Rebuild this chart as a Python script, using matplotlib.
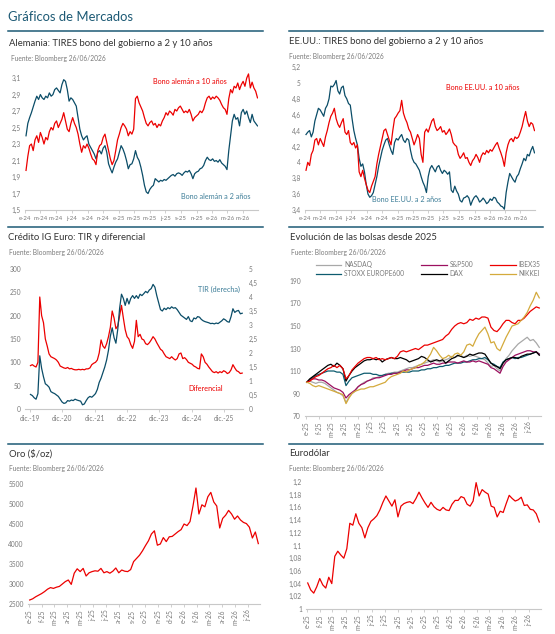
import numpy as np
import pandas as pd
import matplotlib
matplotlib.use("Agg")
import matplotlib.pyplot as plt
import matplotlib.dates as mdates
from matplotlib.lines import Line2D
from matplotlib.ticker import FuncFormatter

plt.rcParams['font.family'] = ['Lato', 'DejaVu Sans']

# ---------------- datos ----------------
# Alemania, semanal desde 2024-01-05
de_dates = pd.date_range('2024-01-05', periods=130, freq='W-FRI')
de_10y = [1.98, 2.15, 2.28, 2.30, 2.22, 2.35, 2.40, 2.32, 2.44, 2.38,
          2.30, 2.38, 2.35, 2.45, 2.50, 2.47, 2.55, 2.58, 2.50, 2.55,
          2.60, 2.68, 2.58, 2.48, 2.45, 2.55, 2.62, 2.55, 2.50, 2.42,
          2.30, 2.20, 2.28, 2.25, 2.30, 2.25, 2.18, 2.12, 2.10, 2.05,
          2.22, 2.28, 2.30, 2.38, 2.42, 2.32, 2.22, 2.12, 2.05, 2.10,
          2.22, 2.35, 2.42, 2.50, 2.55, 2.52, 2.48, 2.40, 2.45, 2.42,
          2.48, 2.85, 2.88, 2.80, 2.75, 2.70, 2.62, 2.55, 2.52, 2.56,
          2.58, 2.53, 2.55, 2.50, 2.54, 2.52, 2.58, 2.62, 2.68, 2.65,
          2.70, 2.68, 2.65, 2.72, 2.70, 2.74, 2.76, 2.72, 2.68, 2.70,
          2.68, 2.72, 2.66, 2.58, 2.62, 2.64, 2.66, 2.70, 2.68, 2.72,
          2.80, 2.86, 2.88, 2.84, 2.87, 2.85, 2.88, 2.86, 2.83, 2.78,
          2.74, 2.72, 2.66, 2.85, 2.96, 2.92, 3.00, 2.98, 3.04, 2.96,
          3.02, 3.06, 3.00, 3.10, 3.15, 2.98, 3.05, 2.98, 2.94, 2.86]
de_2y = [2.40, 2.55, 2.62, 2.68, 2.75, 2.82, 2.88, 2.84, 2.90, 2.86,
         2.84, 2.88, 2.86, 2.92, 2.88, 2.90, 2.96, 2.98, 2.95, 2.92,
         3.02, 3.08, 3.06, 2.96, 2.82, 2.86, 2.84, 2.80, 2.76, 2.62,
         2.48, 2.40, 2.35, 2.38, 2.40, 2.30, 2.26, 2.22, 2.18, 2.12,
         2.20, 2.22, 2.18, 2.25, 2.28, 2.20, 2.06, 2.00, 1.95, 2.02,
         2.08, 2.12, 2.20, 2.28, 2.24, 2.18, 2.10, 2.00, 2.05, 2.06,
         2.12, 2.22, 2.14, 2.10, 2.02, 1.92, 1.80, 1.72, 1.70, 1.75,
         1.78, 1.80, 1.88, 1.86, 1.84, 1.86, 1.85, 1.87, 1.86, 1.88,
         1.90, 1.92, 1.93, 1.91, 1.94, 1.95, 1.94, 1.92, 1.95, 1.97,
         1.96, 1.98, 1.94, 1.88, 1.94, 1.96, 1.97, 2.00, 2.01, 2.04,
         2.10, 2.14, 2.11, 2.10, 2.12, 2.09, 2.10, 2.08, 2.11, 2.07,
         2.05, 2.03, 1.99, 2.22, 2.40, 2.58, 2.66, 2.60, 2.62, 2.52,
         2.68, 2.72, 2.66, 2.70, 2.62, 2.56, 2.66, 2.58, 2.55, 2.52]

# EE.UU., semanal desde 2024-01-05
us_10y = [3.90, 4.00, 3.96, 4.10, 4.15, 4.28, 4.30, 4.22, 4.30, 4.25,
          4.20, 4.32, 4.40, 4.50, 4.58, 4.62, 4.68, 4.55, 4.48, 4.44,
          4.50, 4.55, 4.38, 4.35, 4.40, 4.25, 4.22, 4.25, 4.18, 4.22,
          3.88, 3.82, 3.90, 3.80, 3.72, 3.65, 3.62, 3.70, 3.76, 3.82,
          3.98, 4.10, 4.20, 4.30, 4.40, 4.42, 4.35, 4.28, 4.22, 4.40,
          4.55, 4.58, 4.62, 4.65, 4.78, 4.62, 4.55, 4.50, 4.42, 4.38,
          4.30, 4.22, 4.28, 4.35, 4.30, 4.10, 4.00, 4.38, 4.42, 4.38,
          4.45, 4.52, 4.55, 4.45, 4.40, 4.42, 4.45, 4.38, 4.40, 4.35,
          4.38, 4.42, 4.35, 4.25, 4.22, 4.20, 4.10, 4.05, 4.08, 4.12,
          4.05, 4.06, 4.00, 3.96, 4.02, 4.05, 4.10, 4.06, 4.00, 4.08,
          4.12, 4.10, 4.15, 4.12, 4.16, 4.14, 4.18, 4.22, 4.25, 4.18,
          4.12, 4.05, 3.95, 4.12, 4.22, 4.28, 4.30, 4.26, 4.32, 4.30,
          4.32, 4.38, 4.45, 4.55, 4.64, 4.52, 4.45, 4.50, 4.48, 4.40]
us_2y = [4.35, 4.38, 4.40, 4.32, 4.38, 4.52, 4.60, 4.68, 4.66, 4.62,
         4.58, 4.68, 4.72, 4.80, 4.96, 4.95, 4.98, 5.03, 4.90, 4.86,
         4.94, 4.96, 4.84, 4.80, 4.74, 4.72, 4.55, 4.40, 4.30, 4.22,
         4.05, 3.95, 3.98, 3.88, 3.72, 3.60, 3.56, 3.58, 3.62, 3.72,
         3.82, 3.95, 4.05, 4.15, 4.22, 4.28, 4.30, 4.22, 4.15, 4.10,
         4.25, 4.30, 4.28, 4.32, 4.35, 4.28, 4.25, 4.30, 4.28, 4.15,
         4.05, 4.00, 3.98, 3.94, 3.90, 3.82, 3.75, 3.70, 3.62, 3.82,
         3.92, 3.96, 3.92, 3.88, 3.94, 3.96, 3.90, 3.86, 3.90, 3.88,
         3.85, 3.88, 3.65, 3.62, 3.70, 3.64, 3.60, 3.52, 3.50, 3.55,
         3.56, 3.58, 3.55, 3.46, 3.52, 3.56, 3.58, 3.55, 3.50, 3.52,
         3.55, 3.52, 3.48, 3.50, 3.54, 3.52, 3.56, 3.55, 3.50, 3.48,
         3.45, 3.44, 3.41, 3.62, 3.75, 3.86, 3.82, 3.78, 3.75, 3.82,
         3.85, 3.92, 3.98, 4.05, 4.02, 4.10, 4.08, 4.15, 4.20, 4.12]

# Crédito IG Euro, cada 3 semanas desde 2019-12-06
ig_dates = pd.date_range('2019-12-06', periods=115, freq='21D')
ig_spread = [93, 95, 92, 90, 100, 240, 200, 185, 150, 135,
             118, 112, 110, 108, 105, 100, 92, 90, 88, 87,
             89, 86, 87, 85, 84, 84, 85, 84, 85, 84,
             86, 86, 88, 95, 98, 100, 105, 120, 148, 135,
             130, 140, 155, 175, 210, 195, 172, 178, 200, 222,
             195, 170, 155, 150, 138, 130, 145, 190, 155, 160,
             150, 148, 140, 138, 142, 148, 155, 150, 142, 135,
             128, 125, 118, 112, 110, 108, 112, 108, 105, 108,
             118, 120, 108, 110, 106, 100, 98, 96, 92, 90,
             87, 86, 118, 112, 100, 96, 90, 85, 80, 78,
             80, 77, 80, 78, 82, 80, 76, 78, 84, 95,
             88, 82, 80, 76, 77]
ig_yield = [0.52, 0.48, 0.40, 0.35, 0.55, 1.90, 1.45, 1.15, 0.90, 0.85,
            0.78, 0.62, 0.58, 0.55, 0.50, 0.45, 0.35, 0.25, 0.20, 0.22,
            0.30, 0.28, 0.32, 0.30, 0.35, 0.32, 0.30, 0.28, 0.15, 0.18,
            0.30, 0.40, 0.45, 0.42, 0.48, 0.55, 0.70, 0.95, 1.10, 1.30,
            1.50, 1.75, 2.10, 2.60, 2.90, 2.55, 2.35, 2.85, 3.60, 4.10,
            3.95, 3.70, 3.95, 3.75, 3.95, 4.05, 3.95, 4.05, 3.95, 4.10,
            4.05, 4.12, 4.20, 4.15, 4.25, 4.30, 4.45, 4.35, 4.05, 3.80,
            3.55, 3.50, 3.60, 3.55, 3.62, 3.58, 3.65, 3.60, 3.62, 3.55,
            3.45, 3.35, 3.30, 3.25, 3.20, 3.30, 3.15, 3.12, 3.25, 3.22,
            3.30, 3.28, 3.20, 3.15, 3.12, 3.10, 3.08, 3.05, 3.06, 3.04,
            3.07, 3.05, 3.10, 3.15, 3.22, 3.18, 3.12, 3.10, 3.30, 3.58,
            3.45, 3.50, 3.52, 3.40, 3.42]

# Bolsas (base 100), semanal desde 2025-01-03
eq_dates = pd.date_range('2025-01-03', periods=78, freq='W-FRI')
nasdaq = [100, 101, 100, 99, 100, 100, 99, 97, 95, 93,
          91, 90, 88, 82, 87, 90, 92, 96, 98, 100,
          101, 102, 104, 104, 105, 106, 107, 108, 108, 109,
          109, 110, 111, 112, 113, 113, 114, 115, 116, 117,
          118, 119, 120, 119, 118, 119, 120, 121, 123, 122,
          123, 124, 122, 124, 123, 124, 123, 122, 121, 120,
          117, 114, 115, 112, 110, 117, 121, 124, 128, 131,
          134, 136, 138, 140, 137, 138, 135, 131]
sp500 = [100, 102, 103, 103, 102, 102, 101, 99, 97, 95,
         94, 93, 91, 86, 89, 91, 93, 96, 98, 99,
         101, 102, 103, 104, 104, 105, 106, 107, 107, 108,
         108, 109, 110, 111, 111, 112, 113, 113, 114, 115,
         115, 116, 117, 116, 116, 117, 117, 118, 118, 118,
         117, 118, 119, 118, 118, 119, 118, 119, 118, 117,
         116, 113, 112, 110, 108, 114, 118, 120, 122, 124,
         125, 126, 127, 128, 128, 127, 127, 125]
ibex35 = [100, 101, 103, 105, 106, 108, 110, 112, 113, 115,
          113, 115, 112, 103, 106, 111, 114, 117, 119, 121,
          122, 122, 121, 122, 120, 121, 120, 121, 122, 121,
          123, 127, 128, 127, 128, 129, 130, 129, 131, 133,
          133, 134, 135, 136, 137, 138, 141, 143, 147, 150,
          152, 153, 152, 153, 156, 155, 157, 156, 158, 158,
          157, 149, 146, 145, 148, 152, 155, 155, 153, 152,
          155, 155, 157, 160, 163, 165, 167, 166]
stoxx600 = [100, 102, 104, 106, 107, 108, 109, 110, 110, 110,
            109, 109, 107, 97, 101, 104, 105, 106, 107, 108,
            108, 108, 107, 107, 106, 106, 107, 107, 108, 108,
            108, 109, 109, 109, 109, 110, 110, 110, 111, 111,
            112, 112, 113, 113, 114, 114, 115, 115, 116, 117,
            117, 117, 118, 118, 119, 120, 120, 121, 121, 122,
            120, 117, 116, 114, 113, 118, 120, 121, 122, 121,
            122, 122, 123, 124, 125, 126, 127, 125]
dax = [100, 103, 105, 107, 109, 111, 113, 115, 116, 114,
       117, 115, 112, 101, 106, 110, 113, 115, 117, 119,
       120, 120, 121, 120, 121, 118, 120, 121, 122, 121,
       121, 122, 121, 120, 118, 119, 120, 121, 123, 122,
       120, 118, 119, 120, 119, 120, 117, 119, 121, 122,
       124, 123, 122, 123, 125, 124, 125, 126, 126, 125,
       121, 117, 115, 114, 112, 117, 120, 121, 122, 122,
       121, 123, 124, 125, 125, 126, 127, 124]
nikkei = [100, 99, 97, 96, 97, 96, 95, 94, 93, 92,
          91, 90, 89, 81, 86, 90, 92, 93, 94, 94,
          95, 96, 96, 97, 98, 99, 100, 103, 105, 106,
          107, 108, 110, 109, 111, 112, 113, 115, 116, 118,
          121, 125, 131, 128, 124, 121, 122, 124, 122, 125,
          126, 124, 127, 133, 134, 132, 138, 143, 146, 149,
          143, 135, 136, 130, 128, 134, 140, 145, 150, 151,
          152, 155, 158, 162, 168, 173, 180, 175]

# Oro y Eurodólar, semanal desde 2025-01-03
gold = [2600, 2630, 2680, 2720, 2760, 2810, 2870, 2910, 2890, 2920,
        2940, 3000, 3060, 3100, 2990, 3270, 3380, 3310, 3390, 3200,
        3280, 3310, 3330, 3320, 3390, 3280, 3310, 3270, 3320, 3400,
        3280, 3350, 3320, 3310, 3360, 3560, 3640, 3720, 3830, 3960,
        4080, 4250, 4330, 3970, 4000, 4160, 4060, 4180, 4190, 4250,
        4310, 4360, 4500, 4460, 4560, 4950, 5400, 4750, 4980, 4930,
        5180, 5290, 5050, 4950, 4400, 4640, 4720, 4840, 4750, 4620,
        4700, 4600, 4540, 4510, 4420, 4150, 4300, 4010]
eurusd = [1.041, 1.030, 1.025, 1.035, 1.048, 1.038, 1.033, 1.050, 1.040, 1.083,
          1.091, 1.085, 1.080, 1.095, 1.135, 1.132, 1.150, 1.135, 1.128, 1.112,
          1.128, 1.138, 1.142, 1.147, 1.156, 1.168, 1.178, 1.170, 1.162, 1.172,
          1.145, 1.162, 1.166, 1.168, 1.169, 1.166, 1.174, 1.184, 1.175, 1.167,
          1.160, 1.168, 1.161, 1.157, 1.155, 1.160, 1.156, 1.155, 1.165, 1.171,
          1.171, 1.177, 1.175, 1.165, 1.162, 1.170, 1.199, 1.178, 1.188, 1.184,
          1.181, 1.162, 1.160, 1.145, 1.154, 1.152, 1.166, 1.179, 1.174, 1.170,
          1.172, 1.176, 1.163, 1.164, 1.157, 1.156, 1.150, 1.137]

meses = ['e', 'f', 'm', 'a', 'm', 'j', 'j', 'a', 's', 'o', 'n', 'd']

# ---------------- estilo ----------------
RED = '#ec0000'
TEAL = '#0b4d68'
TEAL_TXT = '#3f7f99'
HEAD = '#1d5a75'
GREY_TXT = '#7a7a7a'
TITLE = '#333333'

W, H = 555, 634
fig = plt.figure(figsize=(W / 100, H / 100), dpi=100)


def box(x0, y0, x1, y1):
    # pixel box -> figure fraction
    return [x0 / W, 1 - y1 / H, (x1 - x0) / W, (y1 - y0) / H]


def hline(x0, x1, y):
    fig.add_artist(Line2D([x0 / W, x1 / W], [1 - y / H, 1 - y / H],
                          transform=fig.transFigure, color=HEAD, lw=1.1))


def ftext(x, y, s, size, color, weight='normal'):
    fig.text(x / W, 1 - y / H, s, fontsize=size, color=color,
             ha='left', va='center', fontweight=weight)


def comma(v, pos):
    return f"{round(v, 4):g}".replace('.', ',')


def month_fmt(x, pos):
    d = mdates.num2date(x)
    return f"{meses[d.month - 1]}-{d.strftime('%y')}"


def base_style(ax, xsize=4.8):
    for s in ['top', 'right', 'left']:
        ax.spines[s].set_visible(False)
    ax.spines['bottom'].set_color('#c8c8c8')
    ax.spines['bottom'].set_linewidth(0.8)
    ax.tick_params(axis='y', length=0, labelsize=4.8, labelcolor=GREY_TXT, pad=3)
    ax.tick_params(axis='x', length=2, width=0.6, color='#c8c8c8',
                   labelsize=xsize, labelcolor=GREY_TXT, pad=2)
    ax.yaxis.set_major_formatter(FuncFormatter(comma))


# cabecera
ftext(8, 17, 'Gráficos de Mercados', 9.4, HEAD)
for y in (31, 227, 444):
    hline(8, 263, y)
    hline(289, 543, y)

titles = [(9, 43, 'Alemania: TIRES bono del gobierno a 2 y 10 años'),
          (289, 42, 'EE.UU.: TIRES bono del gobierno a 2 y 10 años'),
          (8, 238, 'Crédito IG Euro: TIR y diferencial'),
          (290, 238, 'Evolución de las bolsas desde 2025'),
          (9, 454, 'Oro ($/oz)'),
          (289, 454, 'Eurodólar')]
for x, y, s in titles:
    ftext(x, y, s, 6.8, TITLE)
for x, y in [(11, 58), (289, 56), (9, 253), (291, 253), (9, 469), (289, 469)]:
    ftext(x, y, 'Fuente: Bloomberg 26/06/2026', 4.8, GREY_TXT)

# ---- Alemania ----
ax1 = fig.add_axes(box(25, 69.8, 258, 210))
ax1.plot(de_dates, de_2y, color=TEAL, lw=0.9)
ax1.plot(de_dates, de_10y, color=RED, lw=0.9)
ax1.set_ylim(1.5, 3.2)
ax1.set_yticks(np.round(np.arange(1.5, 3.11, 0.2), 1))
ax1.set_xlim(pd.Timestamp('2024-01-01'), pd.Timestamp('2026-06-28'))
ax1.xaxis.set_major_locator(mdates.MonthLocator(bymonth=[1, 3, 5, 7, 9, 11]))
ax1.xaxis.set_major_formatter(FuncFormatter(month_fmt))
base_style(ax1, 4.3)
ax1.text(0.867, 0.92, 'Bono alemán a 10 años', transform=ax1.transAxes,
         ha='right', va='center', fontsize=5.2, color=RED)
ax1.text(0.966, 0.093, 'Bono alemán a 2 años', transform=ax1.transAxes,
         ha='right', va='center', fontsize=5.2, color=TEAL_TXT)

# ---- EE.UU. ----
ax2 = fig.add_axes(box(305, 67, 535, 210))
ax2.plot(de_dates, us_2y, color=TEAL, lw=0.9)
ax2.plot(de_dates, us_10y, color=RED, lw=0.9)
ax2.set_ylim(3.4, 5.2)
ax2.set_yticks(np.round(np.arange(3.4, 5.21, 0.2), 1))
ax2.set_xlim(pd.Timestamp('2024-01-01'), pd.Timestamp('2026-06-28'))
ax2.xaxis.set_major_locator(mdates.MonthLocator(bymonth=[1, 3, 5, 7, 9, 11]))
ax2.xaxis.set_major_formatter(FuncFormatter(month_fmt))
base_style(ax2, 4.3)
ax2.text(0.933, 0.858, 'Bono EE.UU. a 10 años', transform=ax2.transAxes,
         ha='right', va='center', fontsize=5.2, color=RED)
ax2.text(0.591, 0.07, 'Bono EE.UU. a 2 años', transform=ax2.transAxes,
         ha='right', va='center', fontsize=5.2, color=TEAL_TXT)

# ---- Crédito IG ----
ax3 = fig.add_axes(box(25, 269, 243, 409))
ax3.plot(ig_dates, ig_spread, color=RED, lw=0.9, zorder=3)
ax3.set_ylim(0, 300)
ax3.set_yticks(range(0, 301, 50))
ax3.set_xlim(pd.Timestamp('2019-10-05'), pd.Timestamp('2026-07-05'))
ax3.set_xticks([pd.Timestamp(f'{y}-12-01') for y in range(2019, 2026)])
ax3.xaxis.set_major_formatter(FuncFormatter(
    lambda x, p: 'dic.-' + mdates.num2date(x).strftime('%y')))
base_style(ax3)
ax3r = ax3.twinx()
ax3r.plot(ig_dates, ig_yield, color=TEAL, lw=0.9)
ax3r.set_ylim(0, 5)
ax3r.set_yticks(np.arange(0, 5.01, 0.5))
for s in ['top', 'right', 'left', 'bottom']:
    ax3r.spines[s].set_visible(False)
ax3r.tick_params(axis='y', length=0, labelsize=4.8, labelcolor=GREY_TXT, pad=4)
ax3r.yaxis.set_major_formatter(FuncFormatter(comma))
ax3r.text(0.986, 0.855, 'TIR (derecha)', transform=ax3r.transAxes,
          ha='right', va='center', fontsize=5.2, color=TEAL_TXT)
ax3r.text(0.91, 0.148, 'Diferencial', transform=ax3r.transAxes,
          ha='right', va='center', fontsize=5.2, color=RED)

# ---- Bolsas ----
ax4 = fig.add_axes(box(305, 281, 541, 416))
series = [('NASDAQ', nasdaq, '#a8a8a8'),
          ('STOXX EUROPE600', stoxx600, '#0d5b6f'),
          ('S&P500', sp500, '#9c1060'),
          ('DAX', dax, '#000000'),
          ('IBEX35', ibex35, RED),
          ('NIKKEI', nikkei, '#d4aa3c')]
for name, vals, col in series:
    ax4.plot(eq_dates, vals, color=col, lw=0.9, label=name)
ax4.set_ylim(70, 190)
ax4.set_yticks(range(70, 191, 20))
ax4.set_xlim(pd.Timestamp('2024-12-30'), pd.Timestamp('2026-06-30'))
ax4.xaxis.set_major_locator(mdates.MonthLocator())
ax4.xaxis.set_major_formatter(FuncFormatter(month_fmt))
base_style(ax4)
ax4.tick_params(axis='x', labelrotation=90)
ax4.legend(loc='lower left', bbox_to_anchor=(0.03, 1.0), ncol=3, frameon=False,
           fontsize=4.8, labelcolor=GREY_TXT, handlelength=3.8,
           handletextpad=0.4, columnspacing=2.6, labelspacing=0.3,
           borderaxespad=0.2)

# ---- Oro ----
ax5 = fig.add_axes(box(28, 484, 260, 604))
ax5.plot(eq_dates, gold, color=RED, lw=0.9)
ax5.set_ylim(2500, 5500)
ax5.set_yticks(range(2500, 5501, 500))
ax5.set_xlim(pd.Timestamp('2024-12-30'), pd.Timestamp('2026-06-30'))
ax5.xaxis.set_major_locator(mdates.MonthLocator())
ax5.xaxis.set_major_formatter(FuncFormatter(month_fmt))
base_style(ax5)
ax5.tick_params(axis='x', labelrotation=90)

# ---- Eurodólar ----
ax6 = fig.add_axes(box(306, 482, 541, 609))
ax6.plot(eq_dates, eurusd, color=RED, lw=0.9)
ax6.set_ylim(1.0, 1.2)
ax6.set_yticks(np.round(np.arange(1.0, 1.201, 0.02), 2))
ax6.set_xlim(pd.Timestamp('2024-12-30'), pd.Timestamp('2026-06-30'))
ax6.xaxis.set_major_locator(mdates.MonthLocator())
ax6.xaxis.set_major_formatter(FuncFormatter(month_fmt))
base_style(ax6)
ax6.tick_params(axis='x', labelrotation=90)

fig.savefig('out.png', dpi=100, facecolor='white')
